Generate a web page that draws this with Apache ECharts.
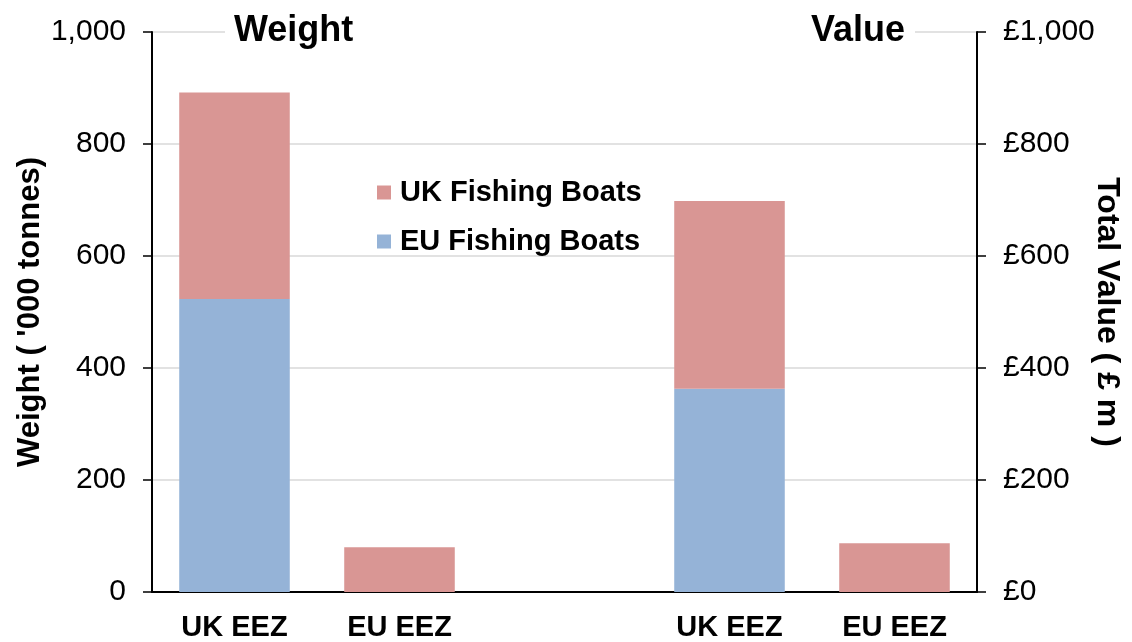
<!DOCTYPE html>
<html>
<head>
<meta charset="utf-8">
<script src="https://cdn.jsdelivr.net/npm/echarts@6/dist/echarts.min.js"></script>
<style>
  html, body { margin: 0; padding: 0; background: #fff; }
  #chart { width: 1132px; height: 642px; }
</style>
</head>
<body>
<div id="chart"></div>
<script>
// Fishing zones, shown once for landed weight and once for landed value
const zones = ['UK EEZ', 'EU EEZ'];
// Weight landed, '000 tonnes
const weightUKBoats = [369, 80];
const weightEUBoats = [523, 0];
// Value landed, £ million
const valueUKBoats = [335, 87];
const valueEUBoats = [363, 0];
// Left axis ticks ('000 tonnes) and right axis ticks (£ m)
const axisMin = 0, axisMax = 1000, axisStep = 200;

const FONT = "'Liberation Sans', Arial, sans-serif";
const UK_COLOR = '#D99694';
const EU_COLOR = '#95B3D7';

// Five slots: weight group, an empty spacer, value group
const categories = [...zones, '', ...zones];
const none = [null, null, null];
const weightSlots = arr => [...arr, ...none];
const valueSlots = arr => [...none, ...arr];

const fmtNum = v => v.toLocaleString('en-GB');

const chart = echarts.init(document.getElementById('chart'), null, { renderer: 'canvas' });

const baseY = {
  type: 'value',
  min: axisMin,
  max: axisMax,
  interval: axisStep,
  nameLocation: 'middle',
  nameMoveOverlap: false,
  nameTextStyle: { fontFamily: FONT, fontSize: 31, fontWeight: 'bold', color: '#000' },
  axisLine: { show: true, lineStyle: { color: '#000', width: 2 } },
  axisTick: { show: true, inside: false, length: 9, lineStyle: { color: '#000', width: 1.5 } },
  axisLabel: { fontFamily: FONT, fontSize: 30, color: '#000', margin: 26 }
};

chart.setOption({
  animation: false,
  backgroundColor: '#fff',
  textStyle: { fontFamily: FONT },
  grid: { left: 152, right: 155, top: 32, bottom: 50, containLabel: false, outerBoundsMode: 'none' },
  title: [
    { text: 'Weight', left: 234, top: 13, padding: 0, z: 20,
      textStyle: { fontFamily: FONT, fontSize: 36, fontWeight: 'bold', color: '#000' } },
    { text: 'Value', left: 811, top: 13, padding: 0, z: 20,
      textStyle: { fontFamily: FONT, fontSize: 36, fontWeight: 'bold', color: '#000' } }
  ],
  graphic: [
    // white band behind the two headings, interrupting the top gridline
    { type: 'rect', z: 3, shape: { x: 225, y: 28, width: 690, height: 8 }, style: { fill: '#fff' } }
  ],
  legend: {
    orient: 'vertical',
    left: 377,
    top: 178,
    padding: 0,
    itemWidth: 14,
    itemHeight: 14,
    itemGap: 20,
    icon: 'rect',
    data: ['UK Fishing Boats', 'EU Fishing Boats'],
    textStyle: { fontFamily: FONT, fontSize: 29, fontWeight: 'bold', color: '#000', padding: [0, 0, 0, 4] }
  },
  xAxis: {
    type: 'category',
    data: categories,
    axisLine: { show: true, lineStyle: { color: '#000', width: 2 } },
    axisTick: { show: false },
    axisLabel: { fontFamily: FONT, fontSize: 29, fontWeight: 'bold', color: '#000', margin: 21, interval: 0 }
  },
  yAxis: [
    Object.assign({}, baseY, {
      position: 'left',
      name: "Weight ( '000 tonnes)",
      nameGap: 106,
      nameRotate: 90,
      splitLine: { show: true, lineStyle: { color: '#d9d9d9', width: 1.5 } },
      axisLabel: Object.assign({}, baseY.axisLabel, { formatter: v => fmtNum(v) })
    }),
    Object.assign({}, baseY, {
      position: 'right',
      name: 'Total Value ( £ m )',
      nameGap: 114,
      nameRotate: -90,
      nameTextStyle: Object.assign({}, baseY.nameTextStyle, { fontSize: 32 }),
      splitLine: { show: false },
      axisLabel: Object.assign({}, baseY.axisLabel, { formatter: v => '£' + fmtNum(v) })
    })
  ],
  series: [
    { name: 'EU Fishing Boats', type: 'bar', stack: 'weight', yAxisIndex: 0,
      barWidth: '67%', barGap: '-100%', itemStyle: { color: EU_COLOR },
      data: weightSlots(weightEUBoats) },
    { name: 'UK Fishing Boats', type: 'bar', stack: 'weight', yAxisIndex: 0,
      barWidth: '67%', barGap: '-100%', itemStyle: { color: UK_COLOR },
      data: weightSlots(weightUKBoats) },
    { name: 'EU Fishing Boats', type: 'bar', stack: 'value', yAxisIndex: 1,
      barWidth: '67%', barGap: '-100%', itemStyle: { color: EU_COLOR },
      data: valueSlots(valueEUBoats) },
    { name: 'UK Fishing Boats', type: 'bar', stack: 'value', yAxisIndex: 1,
      barWidth: '67%', barGap: '-100%', itemStyle: { color: UK_COLOR },
      data: valueSlots(valueUKBoats) }
  ]
});
</script>
</body>
</html>
